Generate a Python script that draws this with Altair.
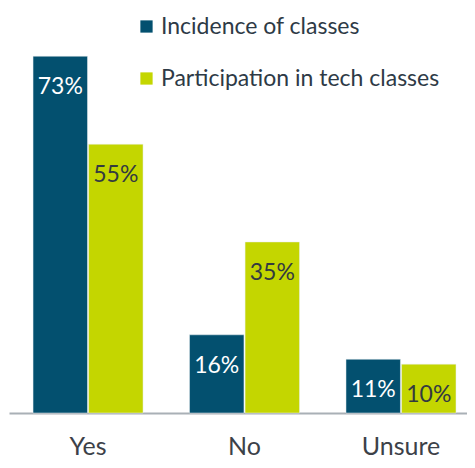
import altair as alt
import pandas as pd

categories = ["Yes", "No", "Unsure"]
series = ["Incidence of classes", "Participation in tech classes"]
incidence = [73, 16, 11]
participation = [55, 35, 10]
colors = ["#03506f", "#c4d600"]
label_colors = ["#ffffff", "#333a40"]

rows = []
for i, c in enumerate(categories):
    rows.append({"cat": c, "series": series[0], "value": incidence[i], "label": f"{incidence[i]}%"})
    rows.append({"cat": c, "series": series[1], "value": participation[i], "label": f"{participation[i]}%"})
df = pd.DataFrame(rows)

FONT = "Lato"

x = alt.X("cat:N", sort=categories, title=None,
          scale=alt.Scale(paddingInner=0.297, paddingOuter=0.112, align=0.686),
          axis=alt.Axis(labelAngle=0, labelFontSize=25, labelFont=FONT, labelColor="#3c4148",
                        labelPadding=21, ticks=False, domainColor="#a9b0b6", domainWidth=2))
xo = alt.XOffset("series:N", sort=series, scale=alt.Scale(paddingInner=0.02))
y = alt.Y("value:Q", scale=alt.Scale(domain=[0, 80]), axis=None)

bars = alt.Chart(df).mark_bar(stroke="#e8eef0", strokeWidth=0.5).encode(
    x=x, xOffset=xo, y=y,
    color=alt.Color("series:N", sort=series,
                    scale=alt.Scale(domain=series, range=colors),
                    legend=alt.Legend(title=None, orient="none", legendX=126, legendY=-7,
                                      symbolType="square", symbolSize=150, symbolStrokeWidth=0,
                                      labelFont=FONT, labelFontSize=23, labelColor="#2e3a46",
                                      labelOffset=3, rowPadding=28, labelLimit=400))
)

text = alt.Chart(df).mark_text(baseline="middle", dy=31, fontSize=23, font=FONT).encode(
    x=x, xOffset=xo, y=y, text="label:N",
    color=alt.Color("series:N", sort=series,
                    scale=alt.Scale(domain=series, range=label_colors), legend=None)
)

chart = alt.layer(bars, text).resolve_scale(color="independent").properties(
    width=458, height=391,
    padding={"left": 1, "top": 14, "right": 0, "bottom": 47},
    autosize=alt.AutoSizeParams(type="none"),
).configure_view(stroke=None)

chart.save("out.html", embed_options={"renderer": "svg", "actions": False})
